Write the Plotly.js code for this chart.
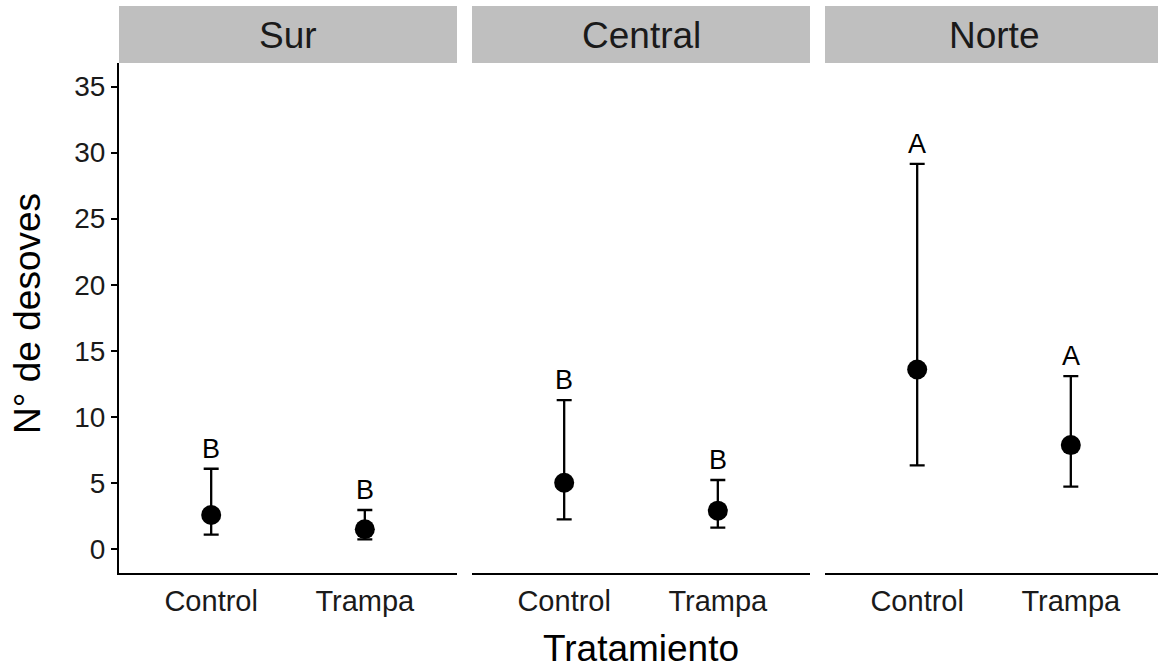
<!DOCTYPE html>
<html>
<head>
<meta charset="utf-8">
<script src="https://cdn.plot.ly/plotly-3.0.1.min.js"></script>
<style>html,body{margin:0;padding:0;background:#fff;}</style>
</head>
<body>
<div id="chart" style="width:1158px;height:672px;"></div>
<script>
// ---- data ----
const regions = ['Sur', 'Central', 'Norte'];
const treatments = ['Control', 'Trampa'];
const surMean = [2.57, 1.49];
const surUpper = [6.07, 2.95];
const surLower = [1.08, 0.73];
const centralMean = [5.01, 2.90];
const centralUpper = [11.26, 5.22];
const centralLower = [2.24, 1.61];
const norteMean = [13.58, 7.86];
const norteUpper = [29.15, 13.08];
const norteLower = [6.33, 4.71];
const surLetters = ['B', 'B'];
const centralLetters = ['B', 'B'];
const norteLetters = ['A', 'A'];
const yTicks = [0, 5, 10, 15, 20, 25, 30, 35];
const yLabel = 'N° de desoves';
const xLabel = 'Tratamiento';

const groups = [
  {mean: surMean, up: surUpper, lo: surLower, letters: surLetters},
  {mean: centralMean, up: centralUpper, lo: centralLower, letters: centralLetters},
  {mean: norteMean, up: norteUpper, lo: norteLower, letters: norteLetters}
];

// ---- geometry ----
const W = 1158, H = 672;
const FONT = '"Liberation Sans", Arial, sans-serif';
const panelLeft = [119, 472, 825];
const panelW = 338;
const plotTop = 63, plotBottom = 573;
const stripTop = 6;
const yRange = [-1.82, 36.78];

const traces = [];
const annotations = [];
const shapes = [];
const layout = {
  width: W, height: H, autosize: false,
  margin: {l: 0, r: 0, t: 0, b: 0, pad: 0},
  paper_bgcolor: '#ffffff', plot_bgcolor: 'rgba(0,0,0,0)',
  showlegend: false,
  font: {family: FONT, color: '#000000'}
};

groups.forEach((g, i) => {
  const ax = i === 0 ? '' : String(i + 1);
  const x0 = panelLeft[i], x1 = Math.min(x0 + panelW, W);
  const pxPerCat = panelW / 2.2;
  const rightVal = -0.6 + (x1 - x0) / pxPerCat;
  layout['xaxis' + ax] = {
    domain: [x0 / W, x1 / W],
    anchor: 'y' + ax,
    type: 'category',
    categoryorder: 'array', categoryarray: treatments,
    range: [-0.6, rightVal],
    showline: true, linecolor: '#000000', linewidth: 2,
    ticks: '', showgrid: false, zeroline: false,
    tickfont: {family: FONT, size: 29, color: '#1a1a1a'},
    ticklabelstandoff: 1,
    fixedrange: true
  };
  layout['yaxis' + ax] = {
    domain: [(H - plotBottom) / H, (H - plotTop) / H],
    anchor: 'x' + ax,
    range: yRange,
    tickvals: yTicks,
    showline: i === 0, linecolor: '#000000', linewidth: 2,
    ticks: i === 0 ? 'outside' : '', ticklen: 6, tickwidth: 2, tickcolor: '#000000',
    showticklabels: i === 0,
    tickfont: {family: FONT, size: 28, color: '#1a1a1a'},
    showgrid: false, zeroline: false,
    fixedrange: true
  };
  traces.push({
    type: 'scatter', mode: 'markers',
    x: treatments, y: g.mean,
    xaxis: 'x' + ax, yaxis: 'y' + ax,
    marker: {color: '#000000', size: 20},
    error_y: {
      type: 'data', symmetric: false,
      array: g.up.map((u, k) => u - g.mean[k]),
      arrayminus: g.lo.map((l, k) => g.mean[k] - l),
      color: '#000000', thickness: 2.3, width: 7.5
    },
    hoverinfo: 'skip'
  });
  g.letters.forEach((t, k) => {
    annotations.push({
      xref: 'x' + ax, yref: 'y' + ax,
      x: treatments[k], y: g.up[k],
      text: t, showarrow: false,
      xanchor: 'center', yanchor: 'middle', yshift: 20,
      font: {family: FONT, size: 27, color: '#000000'}
    });
  });
  // strip
  shapes.push({
    type: 'rect', xref: 'paper', yref: 'paper',
    x0: x0 / W, x1: x1 / W,
    y0: (H - plotTop) / H, y1: (H - stripTop) / H,
    fillcolor: '#bfbfbf', line: {width: 0}, layer: 'below'
  });
  annotations.push({
    xref: 'paper', yref: 'paper',
    x: (x0 + panelW / 2) / W, y: (H - 35) / H,
    text: regions[i], showarrow: false,
    xanchor: 'center', yanchor: 'middle',
    font: {family: FONT, size: 37, color: '#1a1a1a'}
  });
});

annotations.push({
  xref: 'paper', yref: 'paper',
  x: 27 / W, y: (H - 314) / H,
  text: yLabel, textangle: -90, showarrow: false,
  xanchor: 'center', yanchor: 'middle',
  font: {family: FONT, size: 37, color: '#000000'}
});
annotations.push({
  xref: 'paper', yref: 'paper',
  x: 641 / W, y: (H - 648) / H,
  text: xLabel, showarrow: false,
  xanchor: 'center', yanchor: 'middle',
  font: {family: FONT, size: 37, color: '#000000'}
});

layout.annotations = annotations;
layout.shapes = shapes;

Plotly.newPlot('chart', traces, layout, {displayModeBar: false, staticPlot: true});
</script>
</body>
</html>
